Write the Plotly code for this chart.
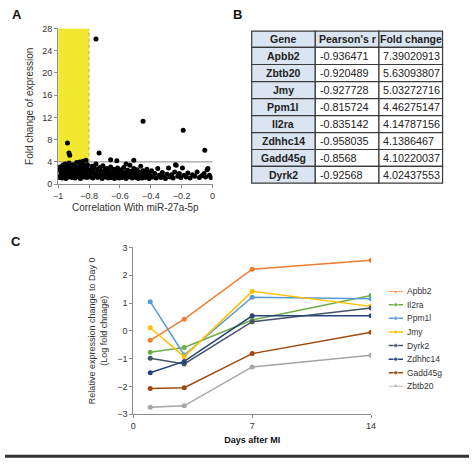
import plotly.graph_objects as go

# ---------------- Panel A data ----------------
cloud_dense = [(-0.995,1.2),(-0.99,2.4),(-0.99,3.1),(-0.985,1.6),(-0.98,2.0),(-0.98,2.9),(-0.975,1.1),(-0.97,1.8),
    (-0.97,3.4),(-0.965,2.3),(-0.96,1.4),(-0.96,2.7),(-0.955,3.6),(-0.95,1.9),(-0.95,1.0),(-0.945,2.5),(-0.94,1.5),
    (-0.94,3.0),(-0.935,2.1),(-0.93,1.3),(-0.93,3.8),(-0.925,2.6),(-0.92,1.7),(-0.92,3.2),(-0.915,2.2),(-0.91,1.2),
    (-0.91,2.8),(-0.905,3.5),(-0.9,1.6),(-0.9,2.0),(-0.895,2.4),(-0.89,1.1),(-0.89,3.3),(-0.885,1.8),(-0.88,2.6),
    (-0.88,3.9),(-0.875,1.4),(-0.87,2.2),(-0.87,3.0),(-0.865,1.7),(-0.86,2.5),(-0.86,1.2),(-0.855,3.4),(-0.85,2.0),
    (-0.85,1.5),(-0.845,2.8),(-0.84,3.7),(-0.84,1.9),(-0.835,1.3),(-0.83,2.3),(-0.83,3.1),(-0.825,1.6),(-0.82,2.7),
    (-0.815,1.2),(-0.81,2.1),(-0.81,3.5),(-0.805,1.8),(-0.8,2.4),(-0.8,1.4),(-0.985,2.7),(-0.965,1.2),(-0.945,3.3),
    (-0.915,1.5),(-0.895,2.9),(-0.875,2.0),(-0.855,1.0),(-0.835,2.6),(-0.815,3.0),(-0.96,2.1),(-0.9,1.3)]
cloud_mid = [(-0.795,1.3),(-0.79,2.6),(-0.785,1.9),(-0.78,3.2),(-0.775,1.1),(-0.77,2.2),(-0.765,2.9),(-0.76,1.6),
    (-0.755,3.6),(-0.75,2.0),(-0.745,1.2),(-0.74,2.7),(-0.735,1.7),(-0.73,3.0),(-0.725,1.4),(-0.72,2.3),(-0.715,1.0),
    (-0.71,3.3),(-0.705,1.9),(-0.70,2.5),(-0.695,1.3),(-0.69,2.0),(-0.685,2.8),(-0.68,1.5),(-0.675,1.1),(-0.67,2.4),
    (-0.665,1.8),(-0.66,3.1),(-0.655,1.2),(-0.65,2.1),(-0.645,1.6),(-0.64,2.7),(-0.635,1.0),(-0.63,1.9),(-0.625,2.3),
    (-0.62,1.4),(-0.615,2.9),(-0.61,1.7),(-0.605,1.1),(-0.60,2.2),(-0.595,1.5),(-0.59,2.6),(-0.585,1.2),(-0.58,1.9),
    (-0.575,3.0),(-0.57,1.4),(-0.565,2.1),(-0.56,1.0),(-0.555,1.7),(-0.55,2.5),(-0.545,1.3),(-0.54,2.0),(-0.535,3.4),
    (-0.53,1.5),(-0.525,2.3),(-0.52,1.1),(-0.515,1.8),(-0.51,2.8),(-0.505,1.4),(-0.50,2.0),(-0.495,1.2),(-0.49,2.6),
    (-0.485,1.6),(-0.48,1.0),(-0.475,2.2),(-0.47,1.4),(-0.465,3.2),(-0.46,1.8),(-0.455,1.1),(-0.45,2.4),(-0.445,1.5),
    (-0.44,2.0),(-0.435,1.2),(-0.43,1.7),(-0.425,2.7),(-0.42,1.3),(-0.415,2.1),(-0.41,1.0),(-0.405,1.6)]
cloud_sparse = [(-0.395,2.4),(-0.385,1.3),(-0.375,1.9),(-0.365,1.1),(-0.355,2.8),(-0.345,1.6),(-0.335,1.2),
    (-0.325,2.1),(-0.315,1.4),(-0.305,1.0),(-0.295,1.8),(-0.285,2.9),(-0.275,1.3),(-0.265,1.7),(-0.255,1.1),
    (-0.245,2.2),(-0.235,3.4),(-0.225,1.4),(-0.215,1.9),(-0.205,1.2),(-0.195,2.9),(-0.185,1.6),(-0.17,1.3),
    (-0.16,2.0),(-0.145,1.1),(-0.13,1.7),(-0.115,1.4),(-0.10,2.2),(-0.085,1.2),(-0.07,1.5),(-0.055,1.9),
    (-0.045,1.3),(-0.035,2.6),(-0.02,1.6),(-0.01,1.2)]
high_points = [(-0.755,26.1),(-0.45,11.3),(-0.19,9.7),(-0.05,6.1),(-0.94,7.4),(-0.93,5.6),(-0.925,5.2),
    (-0.735,5.6),(-0.66,4.4),(-0.62,4.2),(-0.51,4.3),(-0.82,4.3),(-0.86,4.0),(-0.84,4.1),(-0.56,3.6),
    (-0.24,3.5),(-0.03,2.8)]
fold_threshold = 4
corr_threshold = -0.8

# ---------------- Panel B data ----------------
table_header = ["Gene", "Pearson's r", "Fold change"]
genes_b = ["Apbb2", "Zbtb20", "Jmy", "Ppm1l", "Il2ra", "Zdhhc14", "Gadd45g", "Dyrk2"]
pearson_r = ["-0.936471", "-0.920489", "-0.927728", "-0.815724", "-0.835142", "-0.958035", "-0.8568", "-0.92568"]
fold_change = ["7.39020913", "5.63093807", "5.03272716", "4.46275147", "4.14787156", "4.1386467", "4.10220037", "4.02437553"]

# ---------------- Panel C data ----------------
days = [1, 3, 7, 14]
series_c = {
    "Apbb2":   [-0.34, 0.42, 2.22, 2.54],
    "Il2ra":   [-0.77, -0.60, 0.39, 1.27],
    "Ppm1l":   [1.05, -0.87, 1.21, 1.15],
    "Jmy":     [0.11, -0.93, 1.42, 0.88],
    "Dyrk2":   [-0.99, -1.19, 0.33, 0.82],
    "Zdhhc14": [-1.51, -1.10, 0.54, 0.54],
    "Gadd45g": [-2.08, -2.05, -0.82, -0.05],
    "Zbtb20":  [-2.75, -2.70, -1.30, -0.88],
}
colors_c = {
    "Apbb2": "#ED7D31", "Il2ra": "#70AD47", "Ppm1l": "#5B9BD5", "Jmy": "#FFC000",
    "Dyrk2": "#44546A", "Zdhhc14": "#264478", "Gadd45g": "#9E480E", "Zbtb20": "#A5A5A5",
}

FONT = "Arial, Liberation Sans, sans-serif"
W = H = 474

def px_x(v):
    return v / W

def px_y(v):
    return 1 - v / H

fig = go.Figure()

# Panel A scatter
all_pts = cloud_dense + cloud_mid + cloud_sparse + high_points
fig.add_trace(go.Scatter(
    x=[p[0] for p in all_pts], y=[p[1] for p in all_pts], mode="markers",
    marker=dict(color="black", size=5), xaxis="x", yaxis="y", showlegend=False, hoverinfo="skip"))

# Panel C lines
for name, vals in series_c.items():
    fig.add_trace(go.Scatter(
        x=days, y=vals, mode="lines+markers", name=name, showlegend=False,
        line=dict(color=colors_c[name], width=1.5),
        marker=dict(color=colors_c[name], size=5),
        xaxis="x2", yaxis="y2"))

# Panel C legend drawn on a hidden axis pair (row index = legend order)
names_c = list(series_c.keys())
for k, name in enumerate(names_c):
    fig.add_trace(go.Scatter(
        x=[0, 0.5, 1], y=[k, k, k], mode="lines+markers", showlegend=False, hoverinfo="skip",
        line=dict(color=colors_c[name], width=1.5),
        marker=dict(color=colors_c[name], size=[0, 4.5, 0]),
        xaxis="x3", yaxis="y3"))

shapes = []
annotations = []

# Panel B table (cell grid)
col_edges = [252, 317, 382, 447]
row_edges = [26.7, 43.3, 60.8, 78.2, 95.6, 113.0, 130.3, 147.6, 164.9, 182.0]
LINE = "#3a3a3a"
FILL = "#dbe5f1"
n_rows = len(genes_b) + 1
for r in range(n_rows):
    for c in range(3):
        fill = FILL if (r == 0 or c == 0) else "white"
        shapes.append(dict(type="rect", xref="paper", yref="paper",
                           x0=px_x(col_edges[c]), x1=px_x(col_edges[c + 1]),
                           y0=px_y(row_edges[r + 1]), y1=px_y(row_edges[r]),
                           fillcolor=fill, line=dict(color=LINE, width=1.2), layer="below"))
columns = [genes_b, pearson_r, fold_change]
for r in range(n_rows):
    yc = px_y((row_edges[r] + row_edges[r + 1]) / 2)
    for c in range(3):
        if r == 0:
            txt = "<b>%s</b>" % table_header[c]
            x, anchor = px_x((col_edges[c] + col_edges[c + 1]) / 2), "center"
            fs = 10.5
        elif c == 0:
            txt = "<b>%s</b>" % columns[c][r - 1]
            x, anchor = px_x((col_edges[c] + col_edges[c + 1]) / 2), "center"
            fs = 10.5
        else:
            txt = columns[c][r - 1]
            x, anchor = px_x(col_edges[c] + 2.5), "left"
            fs = 10.8
        annotations.append(dict(text=txt, x=x, y=yc, xref="paper", yref="paper", xanchor=anchor,
                                yanchor="middle", showarrow=False,
                                font=dict(family=FONT, size=fs, color="#222")))

# Legend text
for k, name in enumerate(names_c):
    annotations.append(dict(text=name, x=1, y=k, xref="x3", yref="y3", xanchor="left", yanchor="middle",
                            xshift=2, showarrow=False, font=dict(family=FONT, size=8.5, color="#333")))

# Panel A decorations
shapes += [
    dict(type="rect", xref="x", yref="y", x0=-1, x1=corr_threshold, y0=fold_threshold, y1=28,
         fillcolor="#f3e830", line=dict(width=0), layer="below"),
    dict(type="line", xref="x", yref="y", x0=corr_threshold, x1=corr_threshold, y0=fold_threshold, y1=28,
         line=dict(color="#b8b050", width=1, dash="dot"), layer="below"),
    dict(type="line", xref="x", yref="y", x0=-1, x1=0, y0=fold_threshold, y1=fold_threshold,
         line=dict(color="#888888", width=1), layer="below"),
    dict(type="line", xref="paper", yref="paper", x0=0, x1=1, y0=px_y(461), y1=px_y(461),
         line=dict(color="#333333", width=3)),
]

annotations += [
    dict(text="<b>A</b>", x=px_x(5), y=px_y(0), xref="paper", yref="paper", xanchor="left",
         yanchor="top", showarrow=False, font=dict(size=13, color="#111")),
    dict(text="<b>B</b>", x=px_x(231), y=px_y(0), xref="paper", yref="paper", xanchor="left",
         yanchor="top", showarrow=False, font=dict(size=13, color="#111")),
    dict(text="<b>C</b>", x=px_x(4), y=px_y(232), xref="paper", yref="paper", xanchor="left",
         yanchor="top", showarrow=False, font=dict(size=13, color="#111")),
]

axis_common = dict(showgrid=False, zeroline=False, showline=True, linecolor="#8c8c8c",
                   ticks="outside", ticklen=3, tickcolor="#8c8c8c",
                   tickfont=dict(family=FONT, size=9, color="#333"))
hidden = dict(visible=False, showgrid=False, zeroline=False, fixedrange=True)

fig.update_layout(
    width=W, height=H, margin=dict(l=0, r=0, t=0, b=0),
    paper_bgcolor="white", plot_bgcolor="rgba(0,0,0,0)",
    font=dict(family=FONT, color="#333"),
    showlegend=False,
    xaxis=dict(domain=[px_x(54.3), px_x(212)], range=[-1, 0.0], dtick=0.2, tick0=-1,
               anchor="y", title=dict(text="Correlation With miR-27a-5p", font=dict(size=10), standoff=4),
               **axis_common),
    yaxis=dict(domain=[px_y(183), px_y(24)], range=[0, 28], dtick=4, anchor="x",
               title=dict(text="Fold change of expression", font=dict(size=10), standoff=6),
               **axis_common),
    xaxis2=dict(domain=[px_x(131), px_x(374)], range=[0, 14], tickvals=[0, 7, 14], anchor="y2",
                title=dict(text="<b>Days after MI</b>", font=dict(size=9, color="#111"), standoff=6),
                **axis_common),
    yaxis2=dict(domain=[px_y(418), px_y(247.7)], range=[-3, 3], dtick=1, anchor="x2",
                title=dict(text="Relative expression change to Day 0<br>(Log fold chnage)",
                           font=dict(size=9), standoff=8),
                **axis_common),
    xaxis3=dict(domain=[px_x(391.7), px_x(406.7)], range=[0, 1], anchor="y3", **hidden),
    yaxis3=dict(domain=[px_y(389.6), px_y(292.3)], range=[7, 0], anchor="x3", **hidden),
    shapes=shapes,
    annotations=annotations,
)

fig.write_html(
    "out.html",
    config={"displayModeBar": False, "responsive": False},
    post_script=("document.documentElement.style.margin='0';document.documentElement.style.overflow='hidden';"
                 "document.body.style.margin='0';document.body.style.padding='0';"
                 "document.body.style.overflow='hidden';"),
)
